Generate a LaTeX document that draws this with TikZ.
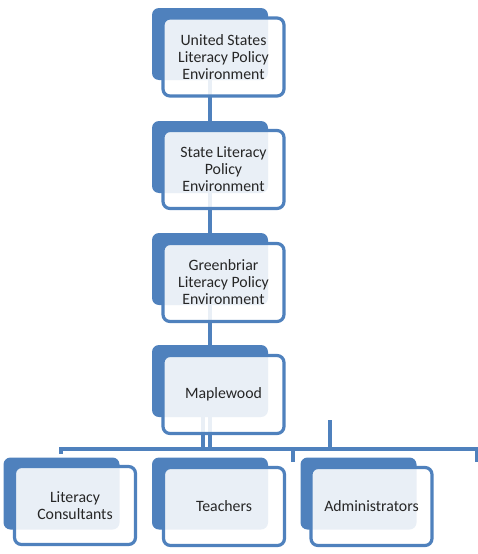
\documentclass[tikz,border=0pt]{standalone}
\usepackage{fontspec}
\setmainfont{Carlito}
\usetikzlibrary{positioning}
\definecolor{orgblue}{HTML}{4F81BD}
\tikzset{
  backbox/.style={fill=orgblue,rounded corners=7pt,inner sep=0pt,minimum width=116pt,minimum height=72pt},
  frontbox/.style={draw=orgblue,line width=3.2pt,fill=white,fill opacity=.88,text opacity=1,rounded corners=7pt,inner sep=0pt,minimum width=121pt,minimum height=78pt,align=center,text=black!85,font=\fontsize{15.8}{17}\selectfont},
  link/.style={draw=orgblue,line width=3.4pt}
}
\begin{document}
\begin{tikzpicture}[x=1pt,y=-1pt]
\path[use as bounding box] (0,0) rectangle (478,554);
\node[backbox] (usB) at (210,44) {};
\node[backbox] (stateB) at (210,157) {};
\node[backbox] (greenB) at (210,269) {};
\node[backbox] (mapleB) at (210,381) {};
\node[backbox] (consultB) at (61.5,493.5) {};
\node[backbox] (teachB) at (210,493.5) {};
\node[backbox] (adminB) at (358.5,493.5) {};
\coordinate (busL) at (61,449);
\coordinate (busR) at (478,449);
\coordinate (stubTop) at (330,420);
\draw[link] (usB.south) -- (stateB.north);
\draw[link] (stateB.south) -- (greenB.north);
\draw[link] (greenB.south) -- (mapleB.north);
\draw[link] ([xshift=-7pt]mapleB.south) -- ([xshift=-7pt]mapleB.south |- busL);
\draw[link] (mapleB.south) -- (mapleB.south |- busL);
\draw[link] (stubTop) -- (stubTop |- busL);
\draw[link] ([xshift=-1.7pt]busL) -- (busR);
\draw[link] (busL) -- ++(0,5);
\draw[link] (293,449) -- (293,462);
\draw[link] (476.3,449) -- (476.3,462);
\node[frontbox] (us) at (223.5,57) {United States\\Literacy Policy\\Environment};
\node[frontbox] (state) at (223.5,169.5) {State Literacy\\Policy\\Environment};
\node[frontbox] (green) at (223.5,282.5) {Greenbriar\\Literacy Policy\\Environment};
\node[frontbox] (maple) at (223.5,394.5) {Maplewood};
\node[frontbox] (consult) at (75,505.5) {Literacy\\Consultants};
\node[frontbox] (teach) at (224,506.5) {Teachers};
\node[frontbox] (admin) at (371.5,506.5) {Administrators};
\end{tikzpicture}
\end{document}
